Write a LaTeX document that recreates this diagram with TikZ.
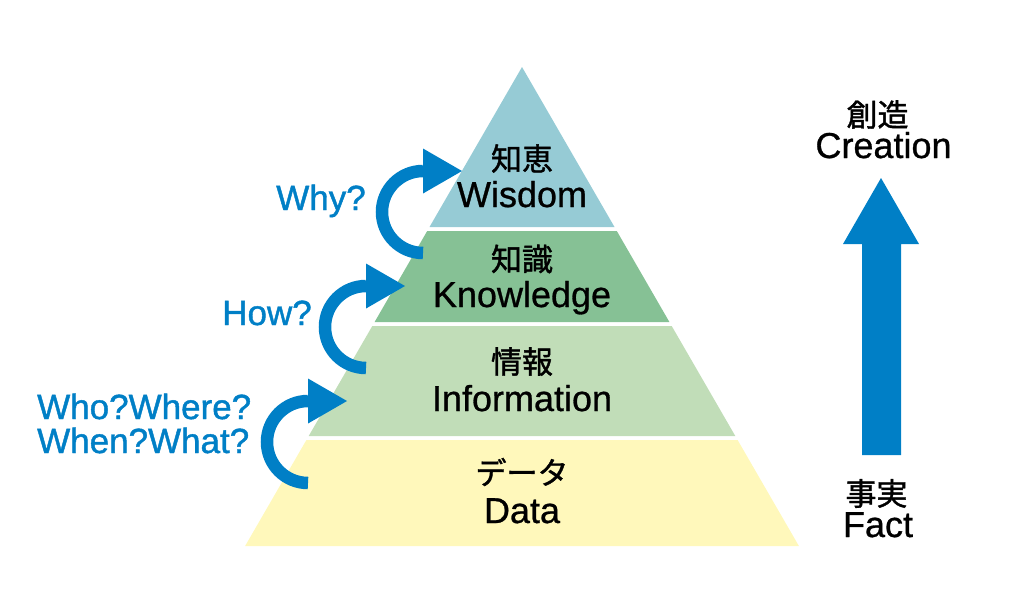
\documentclass[tikz,border=0pt]{standalone}
\usepackage{fontspec}
\usetikzlibrary{calc}
\setmainfont{Liberation Sans}
\newfontfamily\enfont{Liberation Sans}[FakeBold=0.8]
\newfontfamily\bluefont{Liberation Sans}[FakeBold=1.2]
\newfontfamily\jpfont{Noto Sans CJK JP}[FakeBold=1.3]
\definecolor{wisdomc}{RGB}{150,203,213}
\definecolor{knowc}{RGB}{134,193,149}
\definecolor{infoc}{RGB}{193,221,184}
\definecolor{datac}{RGB}{255,248,187}
\definecolor{arrowblue}{RGB}{0,127,198}
\tikzset{
  entext/.style={font=\enfont\fontsize{36}{40}\selectfont, text=black, inner sep=0pt, anchor=base},
  jptext/.style={font=\jpfont\fontsize{31}{34}\selectfont, text=black, inner sep=0pt, anchor=center},
  bluetext/.style={font=\bluefont\fontsize{35}{38}\selectfont, text=arrowblue, inner sep=0pt, anchor=base},
  curarc/.style={draw=arrowblue, line width=12.5pt},
  curhead/.style={fill=arrowblue},
}
\begin{document}
\begin{tikzpicture}[x=1pt,y=-1pt]
\useasboundingbox (0,0) rectangle (1024,598);
% pyramid layers
\fill[wisdomc] (522,67) -- (614.5,227) -- (429.5,227) -- cycle;
\fill[knowc] (427.2,231) -- (616.8,231) -- (669.4,322) -- (374.6,322) -- cycle;
\fill[infoc] (372.3,326) -- (671.7,326) -- (735.3,436) -- (308.7,436) -- cycle;
\fill[datac] (306.4,440) -- (737.6,440) -- (798.9,546) -- (245.1,546) -- cycle;
% labels in pyramid
\node[jptext] (wisdomJp) at (522,158.5) {知恵};
\node[entext] (wisdomEn) at (522,207) {Wisdom};
\node[jptext] (knowJp) at (522,259) {知識};
\node[entext] (knowEn) at (522,307) {Knowledge};
\node[jptext] (infoJp) at (522,361.5) {情報};
\node[entext] (infoEn) at (522,411) {Information};
\node[jptext] (dataJp) at (522,472) {データ};
\node[entext] (dataEn) at (522,523) {Data};
% curved arrows
\foreach \cx/\cy/\nm in {423/212/why, 366/327/how, 308/442/who}{
  \coordinate (\nm C) at (\cx,\cy);
  \coordinate (\nm T) at (\cx,\cy-41);
  \draw[curarc] (\nm C) ++(0,41) arc[start angle=90, end angle=270, radius=41];
  \fill[curhead] ($(\nm T)+(0,-22.5)$) -- ($(\nm T)+(39,0)$) -- ($(\nm T)+(0,22.5)$) -- cycle;
}
\node[bluetext] (whyT) at (321,210) {Why?};
\node[bluetext] (howT) at (267,325) {How?};
\node[bluetext, anchor=base west] (whoT1) at (37,419) {Who?Where?};
\node[bluetext, anchor=base west] (whoT2) at (37,453) {When?What?};
% big arrow
\fill[arrowblue] (862,455) -- (862,244) -- (843,244) -- (881,178) -- (919,244) -- (901,244) -- (901,455) -- cycle;
\node[jptext] (creJp) at (877.5,114.5) {創造};
\node[entext] (creEn) at (883.5,158) {Creation};
\node[jptext] (factJp) at (876.5,493.5) {事実};
\node[entext] (factEn) at (878,537) {Fact};
\end{tikzpicture}
\end{document}
